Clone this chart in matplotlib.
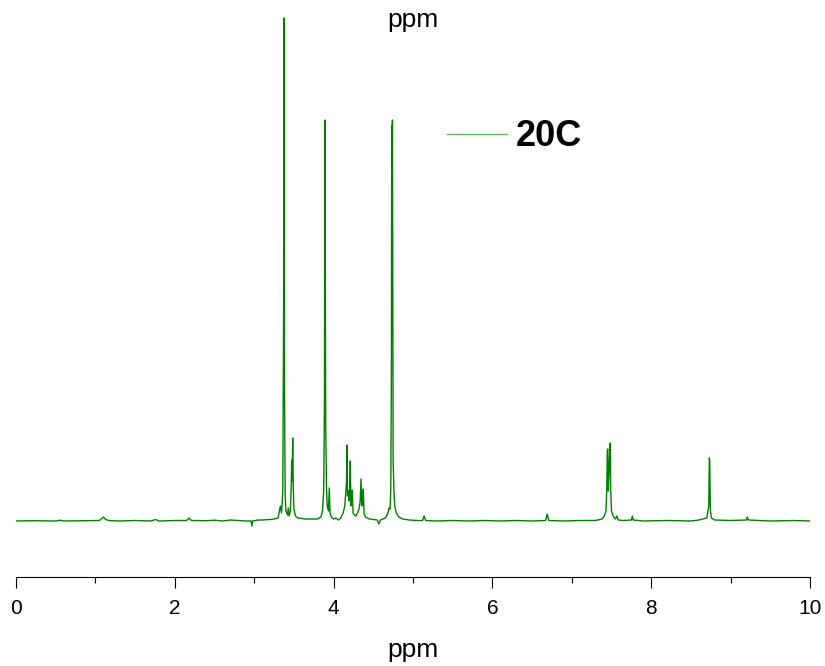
import numpy as np
import matplotlib
matplotlib.use('Agg')
import matplotlib.pyplot as plt

plt.rcParams['font.family'] = ['Liberation Sans', 'DejaVu Sans']

# 1H NMR spectrum, vertices (ppm, intensity in arbitrary units)
ppm = [0.00, 0.20, 0.50, 0.55, 0.60, 0.90, 1.05, 1.10, 1.13, 1.17, 1.30, 1.50, 1.70, 1.76, 1.80,
       2.00, 2.15, 2.18, 2.21, 2.40, 2.50, 2.60, 2.70, 2.80, 2.90, 2.96, 2.97, 2.98, 3.05, 3.10,
       3.20, 3.25, 3.30, 3.33, 3.345, 3.36, 3.37, 3.375, 3.38, 3.39, 3.40, 3.42, 3.43, 3.44, 3.455,
       3.465, 3.472, 3.478, 3.485, 3.492, 3.50, 3.52, 3.55, 3.65, 3.75, 3.80, 3.84, 3.86, 3.875,
       3.885, 3.892, 3.90, 3.91, 3.92, 3.935, 3.946, 3.955, 3.97, 4.00, 4.03, 4.06, 4.09, 4.12,
       4.14, 4.155, 4.163, 4.169, 4.175, 4.185, 4.195, 4.205, 4.21, 4.218, 4.228, 4.236, 4.245,
       4.26, 4.28, 4.30, 4.32, 4.335, 4.345, 4.355, 4.365, 4.374, 4.383, 4.40, 4.45, 4.55, 4.57,
       4.59, 4.65, 4.68, 4.70, 4.71, 4.72, 4.728, 4.732, 4.736, 4.741, 4.75, 4.76, 4.77, 4.79,
       4.82, 4.87, 4.95, 5.05, 5.12, 5.14, 5.16, 5.30, 5.50, 5.70, 5.90, 6.10, 6.30, 6.50, 6.67,
       6.69, 6.71, 6.90, 7.10, 7.30, 7.38, 7.41, 7.43, 7.44, 7.447, 7.452, 7.46, 7.47, 7.478,
       7.485, 7.49, 7.50, 7.52, 7.55, 7.569, 7.585, 7.65, 7.75, 7.762, 7.775, 7.90, 8.20, 8.50,
       8.60, 8.70, 8.725, 8.732, 8.737, 8.745, 8.76, 8.80, 9.00, 9.20, 9.21, 9.225, 9.50, 9.80, 10.00]
intensity = [0, 0.3, 0, 0.8, 0, 0.3, 0.5, 4, 1.5, 0.5, 0, 0.5, 0, 1.5, 0,
             0.5, 0.5, 3, 0.5, 0.3, 0.8, 0, 1, 0.5, 0, 0, -5, 0, 1, 1,
             1.5, 2, 3, 15, 8, 30, 200, 503, 150, 25, 10, 6, 13, 5, 10,
             30, 61, 40, 83, 35, 12, 5, 3, 2, 2, 2, 4, 10, 30,
             120, 401, 100, 35, 15, 10, 33, 8, 4, 2, 3, 1, 3, 8,
             15, 30, 40, 76, 25, 30, 20, 40, 60, 15, 20, 31, 8,
             6, 5, 8, 12, 20, 42, 15, 18, 32, 8, 4, 2, 1, -3,
             1, 3, 7, 13, 12, 30, 150, 395, 300, 401, 60, 30, 15, 8,
             4, 2, 1, 0.5, 0.5, 5, 0.5, 0, 0.5, 0, 0.5, 0, 0.5, 0, 0.5,
             7, 0.5, 0, 0.5, 0.5, 2, 5, 10, 30, 70, 72, 30, 50, 76,
             78, 30, 10, 5, 2, 5, 1, 0.5, 1, 5, 1, 0, 0.5, 0,
             1, 3, 15, 63, 60, 10, 3, 1, 0.5, 1, 4, 1, 0, 0.5, 0]

fig = plt.figure(figsize=(8.25, 6.66), dpi=100)
ax = fig.add_axes([16/825, 89/666, 794/825, 567/666])

ax.plot(ppm, intensity, color='green', lw=1, label='20C')

ax.set_xlim(0, 10)
ax.set_ylim(-56, 511)

for s in ['left', 'right', 'top']:
    ax.spines[s].set_visible(False)
ax.spines['bottom'].set_linewidth(0.8)
ax.set_yticks([])
ax.set_xticks(np.arange(0, 11, 2))
ax.set_xticks(np.arange(1, 10, 2), minor=True)
ax.tick_params(axis='x', which='major', direction='out', length=8, width=0.8, labelsize=15, pad=8)
ax.tick_params(axis='x', which='minor', direction='out', length=4.5, width=0.8)

fig.text(413/825, 1 - 650/666, 'ppm', ha='center', va='center', fontsize=19)
fig.text(413/825, 1 - 20/666, 'ppm', ha='center', va='center', fontsize=19)

leg = fig.legend(loc='center left', bbox_to_anchor=(447/825, 1 - 137/666), frameon=False,
                 borderpad=0, borderaxespad=0, handlelength=1.65, handletextpad=0.25,
                 prop={'weight': 'bold', 'size': 26})
leg.get_lines()[0].set_color('#5cb85c')

fig.savefig('out.png', dpi=100)
